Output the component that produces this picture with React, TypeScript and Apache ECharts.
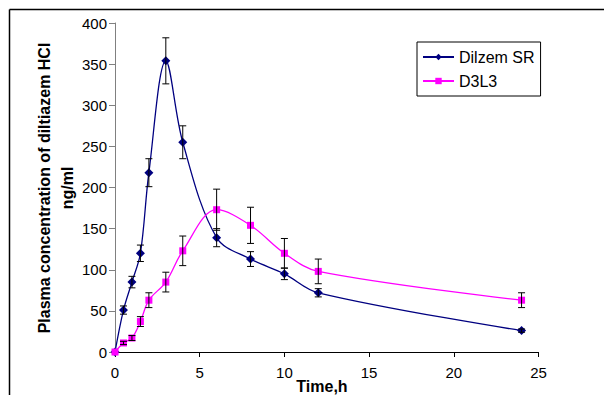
import React, { useEffect, useRef } from "react";
import * as echarts from "echarts";

const times = [0, 0.5, 1, 1.5, 2, 3, 4, 6, 8, 10, 12, 24];
const dilzem = [0, 51, 85, 120, 218, 354, 255, 139, 113, 95, 72, 26];
const dilzemErr = [0, 5, 7, 10, 17, 28, 20, 11, 9, 7, 5, 2];
const d3l3 = [0, 11, 17, 37, 63, 85, 123, 173, 154, 120, 98, 63];
const d3l3Err = [0, 2, 3, 6, 9, 12, 18, 25, 22, 18, 15, 9];
const xTicks = [0, 5, 10, 15, 20, 25];
const yTicks = [0, 50, 100, 150, 200, 250, 300, 350, 400];

const FONT = "Arial, 'Liberation Sans', sans-serif";

function errData(vals: number[], errs: number[]) {
  return times
    .map((t, i) => [t, vals[i] - errs[i], vals[i] + errs[i]])
    .filter((_, i) => errs[i] > 0);
}

function renderErr(params: any, api: any) {
  const x = api.value(0);
  const lo = api.value(1);
  const hi = api.value(2);
  const pHi = api.coord([x, hi]);
  const pLo = api.coord([x, lo]);
  const w = 3.5;
  const st = { stroke: "#000", lineWidth: 1 };
  return {
    type: "group",
    children: [
      { type: "line", shape: { x1: pHi[0], y1: pHi[1], x2: pLo[0], y2: pLo[1] }, style: st },
      { type: "line", shape: { x1: pHi[0] - w, y1: pHi[1], x2: pHi[0] + w, y2: pHi[1] }, style: st },
      { type: "line", shape: { x1: pLo[0] - w, y1: pLo[1], x2: pLo[0] + w, y2: pLo[1] }, style: st },
    ],
  };
}

export default function App() {
  const ref = useRef<HTMLDivElement>(null);
  useEffect(() => {
    if (!ref.current) return;
    const chart = echarts.init(ref.current, null, { renderer: "svg" });
    chart.setOption({
      animation: false,
      backgroundColor: "#fff",
      grid: { left: 115, right: 65.5, top: 23, bottom: 43 },
      xAxis: {
        type: "value",
        min: xTicks[0],
        max: xTicks[xTicks.length - 1],
        interval: 5,
        axisLine: { show: true, lineStyle: { color: "#000", width: 1 } },
        axisTick: { show: true, inside: false, length: 5, lineStyle: { color: "#000" } },
        axisLabel: { margin: 13, fontSize: 15, color: "#000", fontFamily: FONT },
        splitLine: { show: false },
      },
      yAxis: {
        type: "value",
        min: yTicks[0],
        max: yTicks[yTicks.length - 1],
        interval: 50,
        axisLine: { show: true, lineStyle: { color: "#808080", width: 1 } },
        axisTick: { show: true, inside: false, length: 6, lineStyle: { color: "#808080" } },
        axisLabel: { margin: 8, fontSize: 15, color: "#000", fontFamily: FONT },
        splitLine: { show: false },
      },
      legend: {
        orient: "vertical",
        left: 417,
        top: 42,
        data: ["Dilzem SR", "D3L3"],
        borderColor: "#000",
        borderWidth: 1,
        padding: [6, 6, 6, 5],
        itemGap: 6,
        itemWidth: 31,
        itemHeight: 8,
        textStyle: { fontSize: 16, color: "#000", fontFamily: FONT, lineHeight: 18 },
      },
      graphic: [
        { type: "line", shape: { x1: 9.5, y1: 9.5, x2: 604, y2: 9.5 }, style: { stroke: "#000", lineWidth: 1.5 } },
        { type: "line", shape: { x1: 9.5, y1: 9.5, x2: 9.5, y2: 395 }, style: { stroke: "#000", lineWidth: 1.5 } },
        {
          type: "text",
          x: 56,
          y: 188,
          rotation: Math.PI / 2,
          style: {
            text: "Plasma concentration of diltiazem HCl\nng/ml",
            align: "center",
            verticalAlign: "middle",
            font: `bold 16px ${FONT}`,
            lineHeight: 23,
            fill: "#000",
          },
        },
        {
          type: "text",
          x: 322,
          y: 386,
          style: {
            text: "Time,h",
            align: "center",
            verticalAlign: "middle",
            font: `bold 16px ${FONT}`,
            fill: "#000",
          },
        },
      ],
      series: [
        {
          name: "Dilzem SR",
          type: "line",
          data: times.map((t, i) => [t, dilzem[i]]),
          smooth: 0.35,
          symbol: "diamond",
          symbolSize: 9,
          itemStyle: { color: "#000080" },
          lineStyle: { color: "#000080", width: 1.3 },
          z: 3,
        },
        {
          name: "D3L3",
          type: "line",
          data: times.map((t, i) => [t, d3l3[i]]),
          smooth: 0.35,
          symbol: "rect",
          symbolSize: 7,
          itemStyle: { color: "#FF00FF" },
          lineStyle: { color: "#FF00FF", width: 1.3 },
          z: 3,
        },
        {
          name: "errDilzem",
          type: "custom",
          renderItem: renderErr,
          data: errData(dilzem, dilzemErr),
          encode: { x: 0, y: [1, 2] },
          z: 4,
          silent: true,
        },
        {
          name: "errD3L3",
          type: "custom",
          renderItem: renderErr,
          data: errData(d3l3, d3l3Err),
          encode: { x: 0, y: [1, 2] },
          z: 4,
          silent: true,
        },
      ],
    });
    return () => chart.dispose();
  }, []);
  return (
    <div
      ref={ref}
      style={{ position: "fixed", left: 0, top: 0, width: 604, height: 395 }}
    />
  );
}
